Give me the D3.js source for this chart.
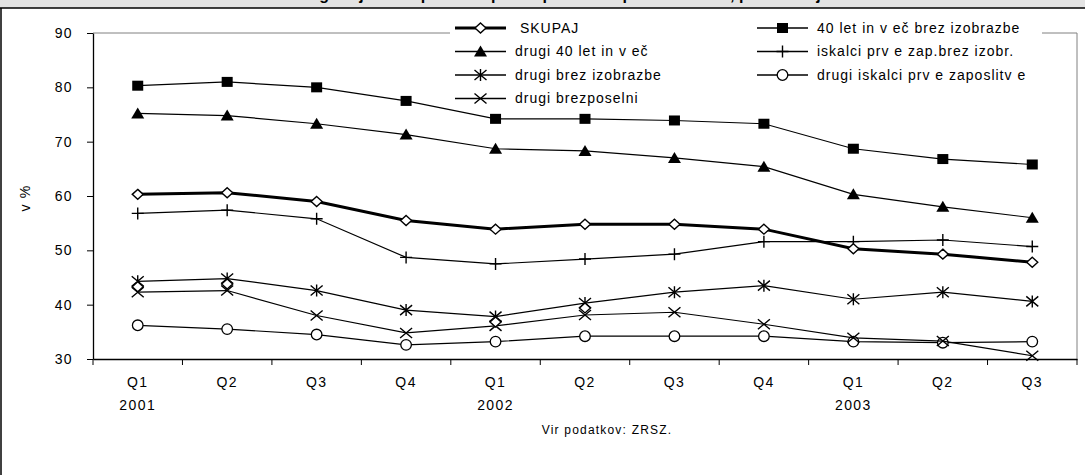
<!DOCTYPE html>
<html>
<head>
<meta charset="utf-8">
<script src="https://cdn.jsdelivr.net/npm/d3@7"></script>
<style>
  body { margin: 0; background: #fff; }
  svg { display: block; font-family: "Liberation Sans", Arial, sans-serif; }
  .tick text { font-size: 14px; fill: #000; letter-spacing: 1.4px; }
</style>
</head>
<body>
<script>
// quarters on the x axis
var quarters = ["Q1", "Q2", "Q3", "Q4", "Q1", "Q2", "Q3", "Q4", "Q1", "Q2", "Q3"];
var years = ["2001", "", "", "", "2002", "", "", "", "2003", "", ""];
var yTicks = [30, 40, 50, 60, 70, 80, 90];

// series values (v %)
var skupaj = [60.3, 60.6, 59.0, 55.5, 53.9, 54.8, 54.8, 53.9, 50.3, 49.3, 47.8];
var let40BrezIzobr = [80.3, 81.0, 80.0, 77.5, 74.2, 74.2, 73.9, 73.3, 68.7, 66.8, 65.8];
var drugi40 = [75.2, 74.8, 73.3, 71.3, 68.7, 68.3, 67.0, 65.4, 60.3, 58.0, 56.0];
var iskalciBrezIzobr = [56.8, 57.4, 55.8, 48.7, 47.5, 48.4, 49.3, 51.6, 51.6, 51.9, 50.7];
var drugiBrezIzobr = [44.3, 44.8, 42.6, 39.0, 37.8, 40.3, 42.3, 43.5, 41.0, 42.3, 40.6];
var drugiIskalci = [36.2, 35.5, 34.5, 32.6, 33.2, 34.2, 34.2, 34.2, 33.2, 33.0, 33.2];
var drugiBrezposelni = [42.3, 42.6, 38.0, 34.8, 36.1, 38.1, 38.6, 36.4, 33.9, 33.3, 30.6];
// stray diamond markers without a line (no legend entry)
var strayDiamonds = [43.3, 43.8, null, null, 36.8, 39.4, null, null, null, null, null];

var series = [
  {name: " SKUPAJ", values: skupaj, sym: "diamond", width: 3},
  {name: "40 let in v eč brez izobrazbe", values: let40BrezIzobr, sym: "square", width: 1.2},
  {name: "drugi 40 let in v eč", values: drugi40, sym: "triangle", width: 1.2},
  {name: "iskalci prv e zap.brez izobr.", values: iskalciBrezIzobr, sym: "plus", width: 1.2},
  {name: "drugi brez izobrazbe", values: drugiBrezIzobr, sym: "star", width: 1.2},
  {name: "drugi iskalci prv e zaposlitv e", values: drugiIskalci, sym: "circle", width: 1.2},
  {name: "drugi brezposelni", values: drugiBrezposelni, sym: "x", width: 1.2}
];

var W = 1085, H = 475;
var svg = d3.select("body").append("svg")
    .attr("width", W)
    .attr("height", H);

// title band (cut off at the top, as in the source)
svg.append("rect").attr("x", 0).attr("y", 0).attr("width", W).attr("height", 8).attr("fill", "#e3e3e3");
svg.append("text")
    .attr("x", 542).attr("y", 0)
    .attr("text-anchor", "middle")
    .attr("font-size", 16).attr("font-weight", "bold")
    .text("Delež dolgotrajno brezposelnih po skupinah brezposelnih oseb, po četrtletjih");
svg.append("line").attr("x1", 0).attr("x2", W).attr("y1", 8).attr("y2", 8).attr("stroke", "#000").attr("stroke-width", 1.5);
svg.append("line").attr("x1", 1).attr("x2", 1).attr("y1", 8).attr("y2", H).attr("stroke", "#000").attr("stroke-width", 1.5);

var pLeft = 93, pRight = 1077, pTop = 33, pBottom = 359;

var x = d3.scaleBand()
    .domain(d3.range(quarters.length))
    .range([pLeft, pRight]);
var y = d3.scaleLinear()
    .domain([30, 90])
    .range([pBottom, pTop]);

// plot frame top/right (grey)
svg.append("path")
    .attr("d", "M" + pLeft + "," + pTop + "H" + pRight + "V" + pBottom)
    .attr("fill", "none").attr("stroke", "#808080").attr("stroke-width", 1);

// y axis
var yAxis = svg.append("g")
    .attr("transform", "translate(" + pLeft + ",0)")
    .call(d3.axisLeft(y).tickValues(yTicks).tickSize(6).tickPadding(14).tickSizeOuter(0));
yAxis.select(".domain").attr("stroke", "#000").attr("stroke-width", 1.3);

svg.append("text")
    .attr("transform", "translate(30," + (y(60) + 2) + ") rotate(-90)")
    .attr("text-anchor", "middle")
    .attr("font-size", 14)
    .attr("letter-spacing", 1.2)
    .text("v %");

// x axis: labels at band centres, ticks at band edges
var xAxis = svg.append("g")
    .attr("transform", "translate(0," + pBottom + ")")
    .call(d3.axisBottom(x).tickFormat(function(i) { return quarters[i]; }).tickSize(0).tickPadding(18));
xAxis.select(".domain").attr("stroke", "#000").attr("stroke-width", 1.3);
xAxis.selectAll(".tick")
    .append("text")
    .attr("y", 41)
    .attr("dy", "0.71em")
    .attr("fill", "#000")
    .text(function(i) { return years[i]; });
svg.append("g").selectAll("line")
    .data(d3.range(quarters.length + 1))
    .enter().append("line")
    .attr("x1", function(i) { return pLeft + i * x.step(); })
    .attr("x2", function(i) { return pLeft + i * x.step(); })
    .attr("y1", pBottom).attr("y2", pBottom + 6)
    .attr("stroke", "#000");

svg.append("text")
    .attr("x", 607).attr("y", 434)
    .attr("text-anchor", "middle")
    .attr("font-size", 12)
    .attr("letter-spacing", 1.2)
    .text("Vir podatkov: ZRSZ.");

// marker shapes
function marker(g, sym) {
  if (sym === "square") {
    g.append("rect").attr("x", -5.5).attr("y", -5).attr("width", 11).attr("height", 10).attr("fill", "#000");
  } else if (sym === "triangle") {
    g.append("path").attr("d", "M0,-6L6.5,5L-6.5,5Z").attr("fill", "#000");
  } else if (sym === "diamond") {
    g.append("path").attr("d", "M0,-5L5.5,0L0,5L-5.5,0Z").attr("fill", "#fff").attr("stroke", "#000").attr("stroke-width", 1.4);
  } else if (sym === "circle") {
    g.append("circle").attr("r", 5.3).attr("fill", "#fff").attr("stroke", "#000").attr("stroke-width", 1.3);
  } else if (sym === "plus") {
    g.append("path").attr("d", "M-6,0H6M0,-6V6").attr("stroke", "#000").attr("stroke-width", 1.4);
  } else if (sym === "x") {
    g.append("path").attr("d", "M-6,-5L6,5M-6,5L6,-5").attr("stroke", "#000").attr("stroke-width", 1.4);
  } else if (sym === "star") {
    g.append("path").attr("d", "M-6,-5L6,5M-6,5L6,-5M0,-6V6").attr("stroke", "#000").attr("stroke-width", 1.4);
  }
}

var line = d3.line()
    .defined(function(d) { return d != null; })
    .x(function(d, i) { return x(i) + x.bandwidth() / 2; })
    .y(function(d) { return y(d); });

// legend background (covers the frame line)
svg.append("rect").attr("x", 450).attr("y", 18).attr("width", 592).attr("height", 30).attr("fill", "#fff");

// draw order: thin lines first, SKUPAJ on top
var drawOrder = [1, 2, 3, 4, 5, 6, 0];
drawOrder.forEach(function(k) {
  var s = series[k];
  var g = svg.append("g");
  g.append("path")
      .datum(s.values)
      .attr("d", line)
      .attr("fill", "none")
      .attr("stroke", "#000")
      .attr("stroke-width", s.width);
  g.selectAll("g")
      .data(s.values)
      .enter().append("g")
      .attr("transform", function(d, i) { return "translate(" + (x(i) + x.bandwidth() / 2) + "," + y(d) + ")"; })
      .each(function() { marker(d3.select(this), s.sym); });
});

svg.append("g").selectAll("g")
    .data(strayDiamonds.map(function(v, i) { return {v: v, i: i}; }).filter(function(d) { return d.v != null; }))
    .enter().append("g")
    .attr("transform", function(d) { return "translate(" + (x(d.i) + x.bandwidth() / 2) + "," + y(d.v) + ")"; })
    .each(function() { marker(d3.select(this), "diamond"); });

// legend: two columns
var legendPos = [
  [455, 28], [757, 28],
  [455, 51.5], [757, 51.5],
  [455, 75], [757, 75],
  [455, 98.5]
];
var legend = svg.append("g").selectAll("g")
    .data(series)
    .enter().append("g")
    .attr("transform", function(d, i) { return "translate(" + legendPos[i][0] + "," + legendPos[i][1] + ")"; });
legend.append("line")
    .attr("x1", 0).attr("x2", 51)
    .attr("stroke", "#000")
    .attr("stroke-width", function(d) { return d.width === 3 ? 3 : 1.4; });
legend.each(function(d) {
  var g = d3.select(this).append("g").attr("transform", "translate(25.5,0)");
  marker(g, d.sym);
});
legend.append("text")
    .attr("x", 60)
    .attr("dy", "0.35em")
    .attr("font-size", 14)
    .attr("letter-spacing", 1)
    .style("white-space", "pre")
    .text(function(d) { return d.name; });
</script>
</body>
</html>
